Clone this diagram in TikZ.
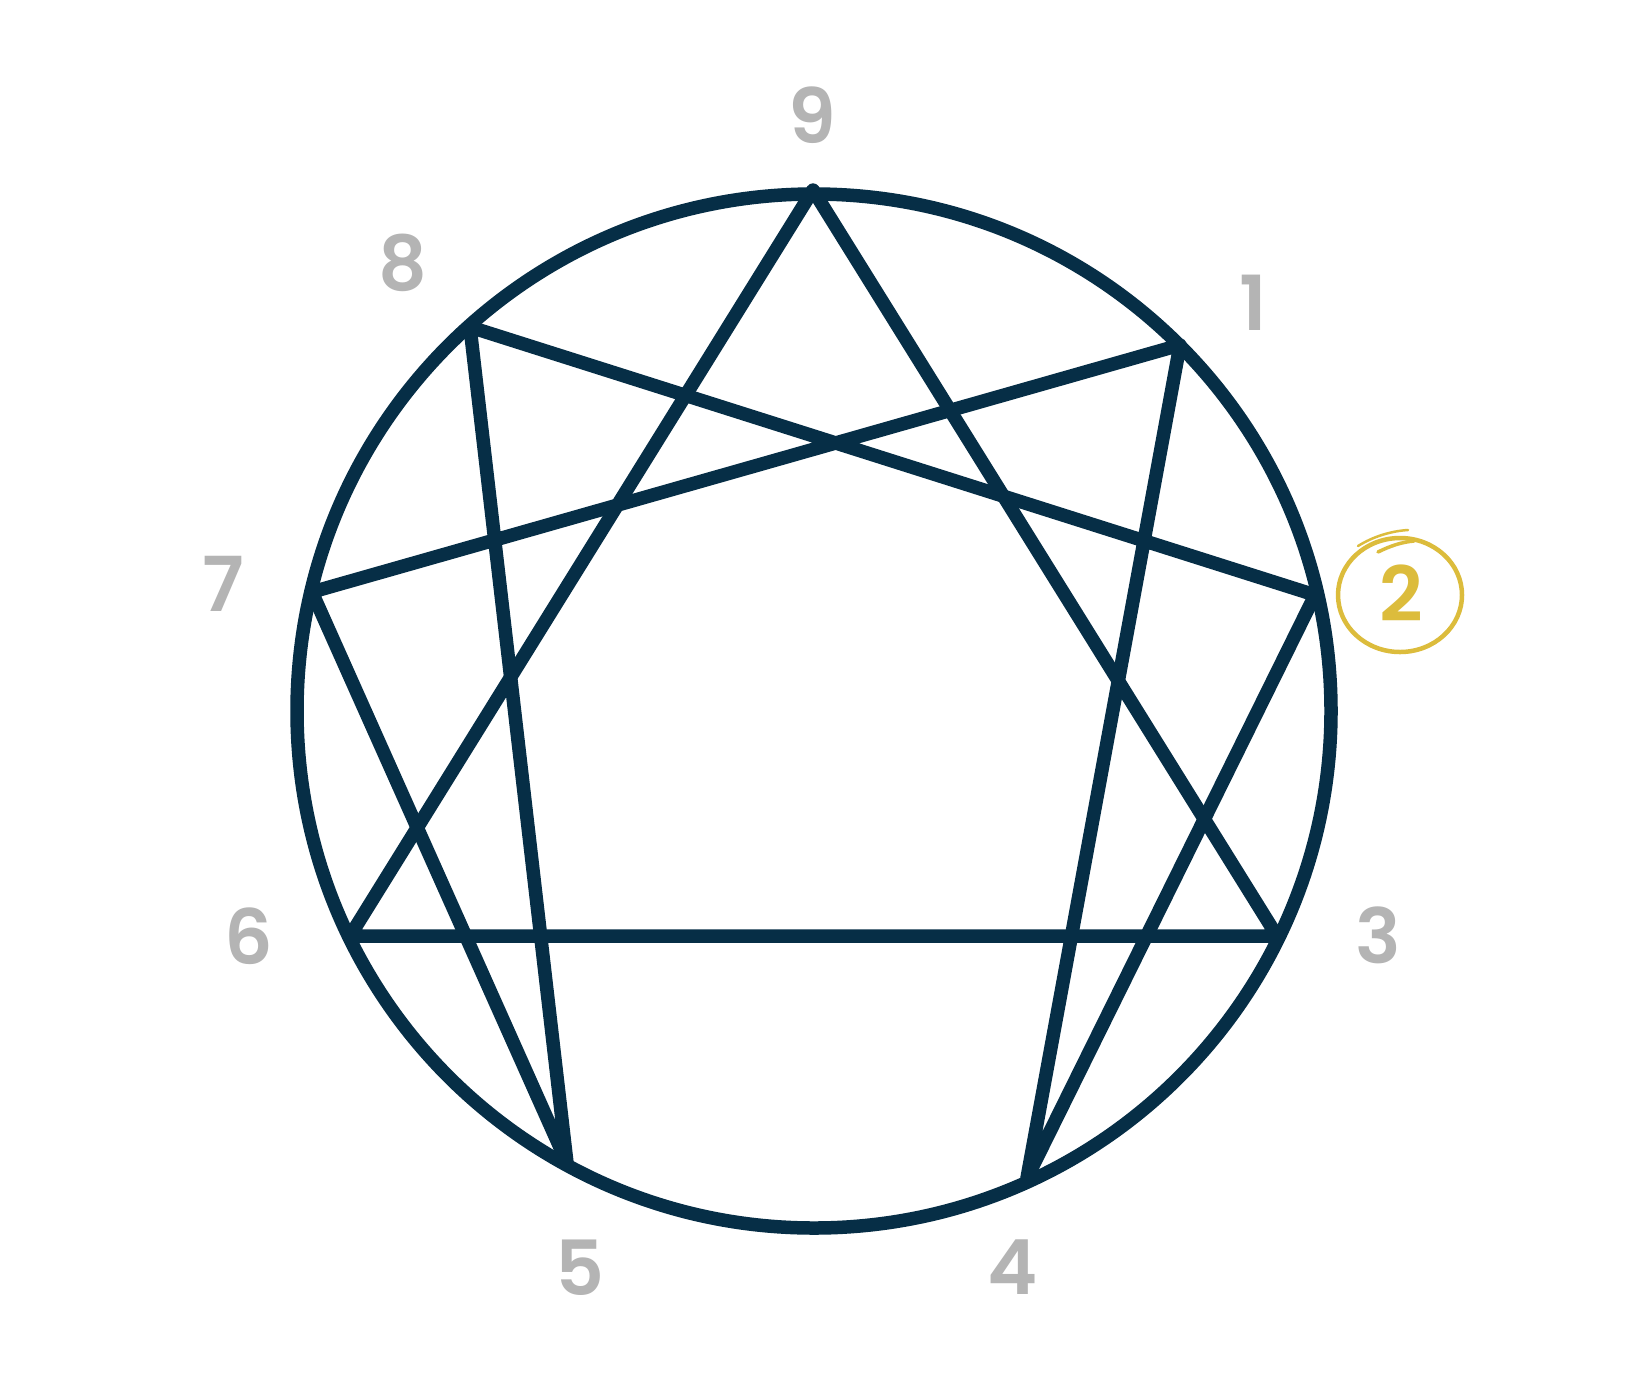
\documentclass[tikz,border=0pt]{standalone}
\usepackage{fontspec}
\setmainfont{Poppins}[BoldFont={Poppins SemiBold}]
\definecolor{navy}{RGB}{6,46,70}
\definecolor{numgray}{RGB}{180,180,180}
\definecolor{gold}{RGB}{220,188,60}
\begin{document}
\begin{tikzpicture}[x=1pt,y=-1pt,
  enline/.style={draw=navy,line width=13.5pt,line join=round},
  numlabel/.style={text=numgray,font=\fontsize{76}{76}\selectfont\bfseries,inner sep=0pt,anchor=center}]
\useasboundingbox[fill=white] (0,0) rectangle (1645,1379);
% vertices
\coordinate (v9) at (813,190);
\coordinate (v1) at (1180,345);
\coordinate (v2) at (1315,595);
\coordinate (v3) at (1277,936);
\coordinate (v4) at (1027,1178);
\coordinate (v5) at (567,1163);
\coordinate (v6) at (350,936);
\coordinate (v7) at (312,592);
\coordinate (v8) at (470,327);
\coordinate (c) at (814,711);
% outer circle
\draw[draw=navy,line width=13.5pt] (c) circle[radius=517];
% triangle
\draw[enline] (v9) -- (v3) -- (v6) -- cycle;
% hexad
\draw[enline] (v1) -- (v4) -- (v2) -- (v8) -- (v5) -- (v7) -- cycle;
% labels
\node[numlabel] (l9) at (812,115) {9};
\node[numlabel] (l1) at (1253,303) {1};
\node[numlabel,text=gold] (l2) at (1401,593) {2};
\node[numlabel] (l3) at (1378,935) {3};
\node[numlabel] (l4) at (1013,1267) {4};
\node[numlabel] (l5) at (580,1268) {5};
\node[numlabel] (l6) at (249,936) {6};
\node[numlabel] (l7) at (223,584) {7};
\node[numlabel] (l8) at (403,263) {8};
% gold hand-drawn circle around 2
\draw[gold,line width=4.5pt] (1400,595) ellipse[x radius=62,y radius=57];
\draw[gold,line width=2.5pt,line cap=round] (1358,546) .. controls (1374,536) and (1392,531) .. (1408,530);
\draw[gold,line width=3.5pt,line cap=round] (1378,552) .. controls (1390,546) and (1402,542) .. (1414,541);
\end{tikzpicture}
\end{document}
